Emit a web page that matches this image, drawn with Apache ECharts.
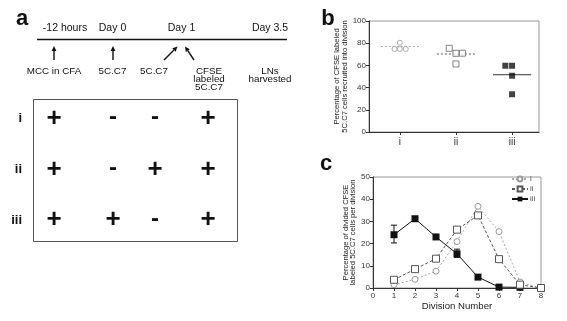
<!DOCTYPE html>
<html>
<head>
<meta charset="utf-8">
<script src="https://cdn.jsdelivr.net/npm/echarts@6/dist/echarts.min.js"></script>
<style>html,body{margin:0;padding:0;background:#fff}#chart{width:567px;height:321px}</style>
</head>
<body>
<div id="chart"></div>
<script>
// panel a - protocol
var timeLabels = ['-12 hours', 'Day 0', 'Day 1', 'Day 3.5'];
var eventLabels = ['MCC in CFA', '5C.C7', '5C.C7', 'CFSE\nlabeled\n5C.C7', 'LNs\nharvested'];
var groups = ['i', 'ii', 'iii'];
var treatment = [
	['+', '-', '-', '+'],
	['+', '-', '+', '+'],
	['+', '+', '-', '+']
];

// panel b - % recruited into division ([group position, value])
var recruitI = [[1, 80.4], [0.905, 74.8], [1, 74.8], [1.105, 74.8]];
var recruitII = [[1.88, 75.4], [2, 70.9], [2.115, 71], [2, 61.3]];
var recruitIII = [[2.88, 59.7], [3, 59.7], [3, 50.7], [3, 34]];
var medians = [77, 70.3, 51.6];

// panel c - % per division
var divisions = [1, 2, 3, 4, 5, 6, 7, 8];
var divI = [1.5, 3.9, 7.6, 20.9, 36.8, 25.4, 2.7, 0];
var divII = [3.7, 8.5, 13.2, 26.3, 32.7, 13, 1.5, 0];
var divIII = [24, 31.2, 23, 15.4, 4.9, 0.4, 0.3];
var errIII = [[1, 20.3, 28.3], [4, 13.8, 17.5]];

var FONT = 'Liberation Sans, Arial, sans-serif';

function pairs(xs, ys) {
	var out = [];
	for (var i = 0; i < ys.length; i++) out.push([xs[i], ys[i]]);
	return out;
}

function medianData() {
	var out = [];
	for (var i = 0; i < medians.length; i++) {
		out.push([i + 1 - 0.34, medians[i]], [i + 1 + 0.34, medians[i]]);
		if (i < medians.length - 1) out.push(null);
	}
	return out;
}

function arrow(x1, y1, x2, y2) {
	var a = Math.atan2(y2 - y1, x2 - x1), L = 5, W = 2.4;
	var bx = x2 - L * Math.cos(a), by = y2 - L * Math.sin(a);
	var px = -Math.sin(a) * W, py = Math.cos(a) * W;
	return [
		{ type: 'line', shape: { x1: x1, y1: y1, x2: bx, y2: by }, style: { stroke: '#111', lineWidth: 1.4 } },
		{ type: 'polygon', shape: { points: [[x2, y2], [bx + px, by + py], [bx - px, by - py]] }, style: { fill: '#111' } }
	];
}

var graphics = [];
function txt(x, y, s, size, weight, align, lh) {
	graphics.push({
		type: 'text', x: x, y: y,
		style: { text: s, font: (weight || 'normal') + ' ' + size + 'px ' + FONT, fill: '#111',
			align: align || 'center', verticalAlign: 'middle', lineHeight: lh || size }
	});
}

// panel letters
txt(22, 19, 'a', 22, 'bold');
txt(328, 19, 'b', 22, 'bold');
txt(326, 164, 'c', 22, 'bold');

// timeline
graphics.push({ type: 'line', shape: { x1: 37, y1: 39.5, x2: 287, y2: 39.5 }, style: { stroke: '#111', lineWidth: 1.5 } });
var timeX = [65, 112.5, 181.5, 270];
timeLabels.forEach(function (s, i) { txt(timeX[i], 28, s, 10.5); });
graphics = graphics.concat(arrow(54, 60, 54, 46), arrow(113, 60, 113, 46),
	arrow(164, 60, 177.5, 46.5), arrow(194, 60, 185, 46.5));
var eventX = [54, 112.5, 154, 209, 270];
eventLabels.forEach(function (s, i) {
	var n = s.split('\n').length;
	txt(eventX[i], 71 + (n - 1) * 4.1, s, 9.8, 'normal', 'center', 8.2);
});

// treatment table
graphics.push({ type: 'rect', shape: { x: 33.5, y: 99.5, width: 204, height: 142 }, style: { fill: 'none', stroke: '#555', lineWidth: 1 } });
var rowY = [118.5, 169.5, 220];
var colX = [54, 113, 155, 208];
groups.forEach(function (g, r) {
	txt(22, rowY[r], g, 13, 'bold', 'right');
	treatment[r].forEach(function (s, c) {
		txt(colX[c], rowY[r] + (s === '+' ? 0 : -1), s, s === '+' ? 26 : 24, 'bold');
	});
});

var axisCommon = {
	axisLine: { show: true, lineStyle: { color: '#333', width: 1 } },
	axisTick: { show: true, length: 3, lineStyle: { color: '#333' } },
	splitLine: { show: false },
	axisLabel: { fontFamily: FONT, fontSize: 8, color: '#333', margin: 3 },
	nameTextStyle: { fontFamily: FONT, fontSize: 7.6, color: '#222', lineHeight: 7.5 }
};
function ax(o) { return echarts.util.merge(echarts.util.clone(axisCommon), o, true); }

var chart = echarts.init(document.getElementById('chart'), null, { renderer: 'canvas' });
chart.setOption({
	backgroundColor: '#fff',
	animation: false,
	graphic: graphics,
	grid: [
		{ left: 369, top: 21, width: 170, height: 111, show: true, borderColor: '#999', borderWidth: 1 },
		{ left: 373, top: 177, width: 168, height: 111, show: true, borderColor: '#999', borderWidth: 1 }
	],
	xAxis: [
		ax({ gridIndex: 0, type: 'value', min: 0.45, max: 3.48,
			axisTick: { customValues: [1, 2, 3] },
			axisLabel: { customValues: [1, 2, 3], fontSize: 10, margin: 5,
				formatter: function (v) { return groups[Math.round(v) - 1] || ''; } } }),
		ax({ gridIndex: 1, type: 'value', min: 0, max: 8, interval: 1,
			name: 'Division Number', nameLocation: 'middle', nameGap: 11,
			nameTextStyle: { fontSize: 9.6, lineHeight: 10 },
			axisLabel: { margin: 4 } })
	],
	yAxis: [
		ax({ gridIndex: 0, type: 'value', min: 0, max: 100, interval: 20,
			name: 'Percentage of CFSE labeled\n5C.C7 cells recruited into division',
			nameLocation: 'middle', nameRotate: 90, nameGap: 15 }),
		ax({ gridIndex: 1, type: 'value', min: 0, max: 50, interval: 10,
			name: 'Percentage of divided CFSE\nlabeled 5C.C7 cells per division',
			nameLocation: 'middle', nameRotate: 90, nameGap: 16 })
	],
	legend: {
		data: ['i', 'ii', 'iii'], orient: 'vertical', left: 511, top: 175,
		itemWidth: 16, itemHeight: 6, itemGap: 2, padding: 0,
		textStyle: { fontFamily: FONT, fontSize: 8, color: '#555', padding: [0, 0, 0, -3] }
	},
	series: [
		// panel b
		{ type: 'scatter', xAxisIndex: 0, yAxisIndex: 0, data: recruitI, symbol: 'circle', symbolSize: 5,
			itemStyle: { color: '#fff', borderColor: '#999', borderWidth: 1 }, z: 3 },
		{ type: 'scatter', xAxisIndex: 0, yAxisIndex: 0, data: recruitII, symbol: 'rect', symbolSize: 6,
			itemStyle: { color: '#fff', borderColor: '#666', borderWidth: 1 }, z: 3 },
		{ type: 'scatter', xAxisIndex: 0, yAxisIndex: 0, data: recruitIII, symbol: 'rect', symbolSize: 6,
			itemStyle: { color: '#111' }, z: 3 },
		{ type: 'line', xAxisIndex: 0, yAxisIndex: 0, data: medianData().slice(0, 2), symbol: 'none',
			lineStyle: { color: '#aaa', width: 1, type: [2, 2] }, z: 2 },
		{ type: 'line', xAxisIndex: 0, yAxisIndex: 0, data: medianData().slice(3, 5), symbol: 'none',
			lineStyle: { color: '#555', width: 1, type: [2, 2] }, z: 2 },
		{ type: 'line', xAxisIndex: 0, yAxisIndex: 0, data: medianData().slice(6, 8), symbol: 'none',
			lineStyle: { color: '#333', width: 1 }, z: 2 },
		// panel c
		{ name: 'iii', type: 'line', xAxisIndex: 1, yAxisIndex: 1, data: pairs(divisions, divIII),
			symbol: 'rect', symbolSize: 7, lineStyle: { color: '#111', width: 1 },
			itemStyle: { color: '#111' }, z: 4 },
		{ name: 'ii', type: 'line', xAxisIndex: 1, yAxisIndex: 1, data: pairs(divisions, divII),
			symbol: 'rect', symbolSize: 7, lineStyle: { color: '#555', width: 1, type: [3, 2] },
			itemStyle: { color: '#fff', borderColor: '#555', borderWidth: 1 }, z: 5 },
		{ name: 'i', type: 'line', xAxisIndex: 1, yAxisIndex: 1, data: pairs(divisions, divI),
			symbol: 'circle', symbolSize: 6, lineStyle: { color: '#aaa', width: 1, type: [2, 2] },
			itemStyle: { color: '#fff', borderColor: '#999', borderWidth: 1 }, z: 3 },
		{ type: 'custom', xAxisIndex: 1, yAxisIndex: 1, data: errIII, z: 3,
			renderItem: function (params, api) {
				var lo = api.coord([api.value(0), api.value(1)]);
				var hi = api.coord([api.value(0), api.value(2)]);
				var st = { stroke: '#111', lineWidth: 1 };
				return { type: 'group', children: [
					{ type: 'line', shape: { x1: lo[0], y1: lo[1], x2: hi[0], y2: hi[1] }, style: st },
					{ type: 'line', shape: { x1: lo[0] - 3, y1: lo[1], x2: lo[0] + 3, y2: lo[1] }, style: st },
					{ type: 'line', shape: { x1: hi[0] - 3, y1: hi[1], x2: hi[0] + 3, y2: hi[1] }, style: st }
				] };
			}
		}
	]
});
</script>
</body>
</html>
